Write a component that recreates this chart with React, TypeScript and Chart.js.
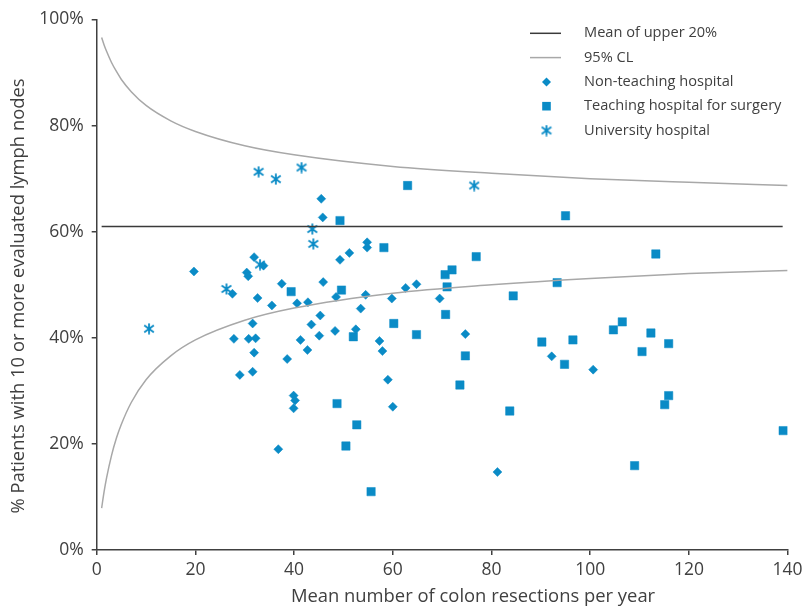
import { useEffect, useRef } from "react";
import { Chart, registerables } from "chart.js";

Chart.register(...registerables);

// Non-teaching hospitals: mean resections per year vs % patients with >= 10 nodes
const nonTeachingX = [19.7, 27.5, 27.8, 29.0, 30.4, 30.7, 30.8, 31.6, 31.6, 31.9, 31.9, 32.2, 32.6, 33.8, 35.5, 36.8, 37.5, 38.6, 39.9, 40.2, 39.9, 40.6, 41.3, 42.7, 42.8, 43.5, 45.1, 45.3, 45.5, 45.8, 45.9, 48.3, 48.5, 49.3, 51.2, 52.5, 53.5, 54.5, 54.8, 54.8, 57.3, 57.9, 59.0, 59.8, 60.0, 62.6, 64.8, 69.5, 74.7, 81.2, 92.2, 100.6];
const nonTeachingY = [52.5, 48.3, 39.8, 33.0, 52.3, 51.6, 39.8, 42.7, 33.6, 55.2, 37.2, 39.9, 47.5, 53.6, 46.1, 19.0, 50.2, 36.0, 29.1, 28.2, 26.7, 46.5, 39.6, 37.7, 46.7, 42.5, 40.4, 44.2, 66.2, 62.7, 50.5, 41.3, 47.7, 54.7, 56.0, 41.6, 45.5, 48.1, 58.0, 57.0, 39.4, 37.5, 32.1, 47.4, 27.0, 49.4, 50.1, 47.4, 40.7, 14.7, 36.5, 34.0];

// Teaching hospitals for surgery
const teachingX = [39.4, 48.7, 49.3, 49.6, 50.5, 52.0, 52.7, 55.6, 58.2, 60.2, 63.0, 64.8, 70.6, 70.7, 71.0, 72.0, 73.6, 74.7, 76.9, 83.7, 84.4, 90.2, 93.3, 94.8, 95.0, 96.5, 104.7, 106.5, 109.0, 110.5, 112.3, 113.3, 115.1, 115.9, 115.9, 139.1];
const teachingY = [48.7, 27.6, 62.1, 49.0, 19.6, 40.2, 23.6, 11.0, 57.0, 42.7, 68.7, 40.6, 51.9, 44.4, 49.6, 52.8, 31.1, 36.6, 55.3, 26.2, 47.9, 39.2, 50.4, 35.0, 63.0, 39.6, 41.5, 43.0, 15.9, 37.4, 40.9, 55.8, 27.4, 38.9, 29.1, 22.5];

// University hospitals
const universityX = [10.6, 26.3, 32.8, 33.1, 36.3, 41.5, 43.7, 43.9, 76.5];
const universityY = [41.7, 49.2, 71.3, 53.8, 69.9, 72.1, 60.5, 57.7, 68.7];

// Mean of the upper 20% of hospitals
const meanX = [1, 139];
const meanValue = 61;

// 95% confidence limits around the mean
const clX = [1, 1.5, 2, 3, 4, 5, 7, 10, 15, 20, 30, 40, 60, 80, 100, 120, 140];
const clUpper = [96.6, 95.2, 94.0, 91.9, 90.2, 88.7, 86.4, 83.8, 80.9, 78.9, 76.2, 74.5, 72.3, 71.0, 70.0, 69.3, 68.7];
const clLower = [7.9, 11.0, 13.6, 17.8, 21.1, 23.7, 27.8, 32.1, 36.6, 39.6, 43.3, 45.6, 48.4, 50.0, 51.2, 52.1, 52.7];

const xTicks = [0, 20, 40, 60, 80, 100, 120, 140];
const yTicks = [0, 20, 40, 60, 80, 100];

const xTitle = "Mean number of colon resections per year";
const yTitle = "% Patients with 10 or more evaluated lymph nodes";

const BLUE = "#0a8bc6";
const TEXT = "#404040";
const AXIS = "#404040";
const FONT = '"Open Sans", "Noto Sans", sans-serif';

const zip = (xs: number[], ys: number[]) => xs.map((x, i) => ({ x, y: ys[i] }));

function makeAsterisk(color: string): HTMLCanvasElement {
  const c = document.createElement("canvas");
  c.width = 12;
  c.height = 12;
  const g = c.getContext("2d")!;
  g.strokeStyle = color;
  g.lineWidth = 1.8;
  g.beginPath();
  g.moveTo(6, 0.5);
  g.lineTo(6, 11.5);
  g.moveTo(1.2, 2.6);
  g.lineTo(10.8, 9.4);
  g.moveTo(1.2, 9.4);
  g.lineTo(10.8, 2.6);
  g.stroke();
  return c;
}

export default function App() {
  const canvasRef = useRef<HTMLCanvasElement | null>(null);

  useEffect(() => {
    const canvas = canvasRef.current;
    if (!canvas) return;
    const asterisk = makeAsterisk(BLUE);

    // Axis titles, placed by hand
    const titlePlugin = {
      id: "axisTitles",
      afterDraw(chart: any) {
        const ctx = chart.ctx as CanvasRenderingContext2D;
        ctx.save();
        ctx.font = `18.4px ${FONT}`;
        ctx.fillStyle = TEXT;
        ctx.textAlign = "center";
        ctx.textBaseline = "middle";
        ctx.fillText(xTitle, 473, 597);
        ctx.translate(18.5, 296);
        ctx.rotate(-Math.PI / 2);
        ctx.fillText(yTitle, 0, 0);
        ctx.restore();
      },
    };

    // Legend drawn inside the plot area, top right
    const legendPlugin = {
      id: "insideLegend",
      afterDraw(chart: any) {
        const ctx = chart.ctx as CanvasRenderingContext2D;
        const ds = chart.data.datasets;
        const items = [
          { label: ds[0].label, kind: "line", color: ds[0].borderColor },
          { label: ds[1].label, kind: "line", color: ds[1].borderColor },
          { label: ds[3].label, kind: "diamond" },
          { label: ds[4].label, kind: "square" },
          { label: ds[5].label, kind: "asterisk" },
        ];
        const symX = 546.5;
        const textX = 584;
        const y0 = 33.3;
        const step = 24.3;
        ctx.save();
        ctx.font = `14.6px ${FONT}`;
        ctx.textBaseline = "middle";
        ctx.textAlign = "left";
        items.forEach((it, i) => {
          const y = y0 + i * step;
          if (it.kind === "line") {
            ctx.strokeStyle = it.color;
            ctx.lineWidth = 1.5;
            ctx.beginPath();
            ctx.moveTo(530, y);
            ctx.lineTo(561, y);
            ctx.stroke();
          } else if (it.kind === "diamond") {
            ctx.fillStyle = BLUE;
            ctx.beginPath();
            ctx.moveTo(symX, y - 4.5);
            ctx.lineTo(symX + 4.5, y);
            ctx.lineTo(symX, y + 4.5);
            ctx.lineTo(symX - 4.5, y);
            ctx.closePath();
            ctx.fill();
          } else if (it.kind === "square") {
            ctx.fillStyle = BLUE;
            ctx.fillRect(symX - 4.3, y - 4.3, 8.6, 8.6);
          } else {
            ctx.drawImage(asterisk, symX - 6, y - 6);
          }
          ctx.fillStyle = TEXT;
          ctx.fillText(it.label, textX, y);
        });
        ctx.restore();
      },
    };

    const chart = new Chart(canvas, {
      type: "scatter",
      data: {
        datasets: [
          {
            type: "line",
            label: "Mean of upper 20%",
            data: meanX.map((x) => ({ x, y: meanValue })),
            borderColor: "#3a3a3a",
            borderWidth: 1.5,
            pointRadius: 0,
            fill: false,
          },
          {
            type: "line",
            label: "95% CL",
            data: zip(clX, clUpper),
            borderColor: "#a8a8a8",
            borderWidth: 1.5,
            pointRadius: 0,
            cubicInterpolationMode: "monotone",
            fill: false,
          },
          {
            type: "line",
            label: "95% CL lower",
            data: zip(clX, clLower),
            borderColor: "#a8a8a8",
            borderWidth: 1.5,
            pointRadius: 0,
            cubicInterpolationMode: "monotone",
            fill: false,
          },
          {
            label: "Non-teaching hospital",
            data: zip(nonTeachingX, nonTeachingY),
            pointStyle: "rectRot",
            pointRadius: 4.5,
            backgroundColor: BLUE,
            borderColor: BLUE,
            borderWidth: 0.5,
          },
          {
            label: "Teaching hospital for surgery",
            data: zip(teachingX, teachingY),
            pointStyle: "rect",
            pointRadius: 5.9,
            backgroundColor: BLUE,
            borderColor: BLUE,
            borderWidth: 0.5,
          },
          {
            label: "University hospital",
            data: zip(universityX, universityY),
            pointStyle: asterisk,
            pointRadius: 6,
            backgroundColor: BLUE,
            borderColor: BLUE,
          },
        ],
      },
      options: {
        responsive: false,
        animation: false,
        layout: { autoPadding: false, padding: { left: 0, right: 20.4, top: 19.5, bottom: 0 } },
        plugins: {
          legend: { display: false },
          tooltip: { enabled: false },
        },
        scales: {
          x: {
            type: "linear",
            min: 0,
            max: 140,
            afterBuildTicks: (s: any) => {
              s.ticks = xTicks.map((v) => ({ value: v }));
            },
            afterFit: (s: any) => {
              s.height = 58;
            },
            ticks: { color: TEXT, font: { family: FONT, size: 17.5 }, padding: 5, maxRotation: 0 },
            grid: { drawOnChartArea: false, drawTicks: true, tickLength: 5, color: AXIS, lineWidth: 1.5 },
            border: { display: true, color: AXIS, width: 1.5 },
          },
          y: {
            type: "linear",
            min: 0,
            max: 100,
            afterBuildTicks: (s: any) => {
              s.ticks = yTicks.map((v) => ({ value: v }));
            },
            afterFit: (s: any) => {
              s.width = 96.7;
            },
            ticks: {
              color: TEXT,
              font: { family: FONT, size: 17.5 },
              padding: 8,
              callback: (v: any) => `${v}%`,
            },
            grid: { drawOnChartArea: false, drawTicks: true, tickLength: 5, color: AXIS, lineWidth: 1.5 },
            border: { display: true, color: AXIS, width: 1.5 },
          },
        },
      },
      plugins: [legendPlugin, titlePlugin],
    } as any);

    return () => chart.destroy();
  }, []);

  return (
    <div style={{ position: "absolute", left: 0, top: 0, width: 808, height: 608 }}>
      <canvas ref={canvasRef} width={808} height={608} style={{ display: "block" }} />
    </div>
  );
}
